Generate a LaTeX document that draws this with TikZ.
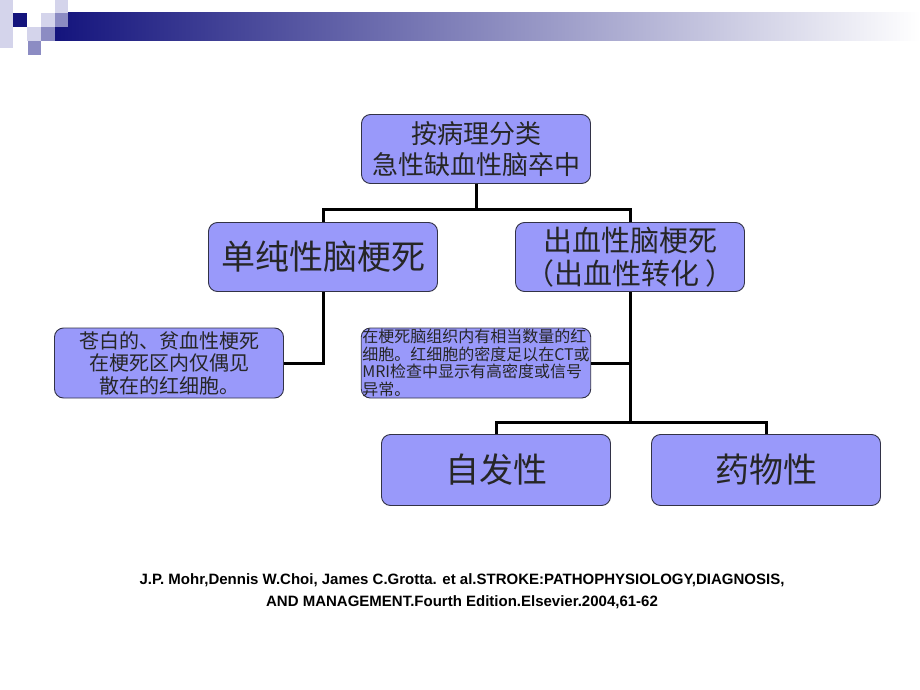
\documentclass[tikz,border=0pt]{standalone}
\usepackage{fontspec}
\setmainfont{Liberation Sans}
\newfontfamily\cjk{Noto Sans CJK SC}
\definecolor{boxfill}{RGB}{153,153,250}
\definecolor{boxline}{RGB}{50,50,70}
\definecolor{navy}{RGB}{20,20,125}
\definecolor{midblue}{RGB}{140,140,195}
\definecolor{paleblue}{RGB}{212,212,235}

\begin{document}
\begin{tikzpicture}[x=1pt,y=-1pt,
  box/.style={draw=boxline,fill=boxfill,rounded corners=9pt,line width=0.9pt,
    text=black!85,align=center,inner sep=2pt},
  wide/.style={box,minimum width=229pt,minimum height=69pt},
  conn/.style={line width=3pt,black}]
  \useasboundingbox (0,0) rectangle (920,690);

  % header bar
  \shade[left color=navy,right color=white] (55,13) rectangle (920,41);
  \fill[paleblue] (0,0) rectangle (13,48);
  \fill[navy] (13,13) rectangle (27,27);
  \fill[paleblue] (55,0) rectangle (68,13);
  \fill[paleblue] (41,13) rectangle (55,27);
  \fill[midblue] (55,13) rectangle (68,27);
  \fill[paleblue] (27,27) rectangle (41,41);
  \fill[midblue] (41,27) rectangle (55,41);
  \fill[midblue] (28,41) rectangle (41,55);

  \node[wide,font=\cjk\fontsize{26}{31}\selectfont] (root) at (476,149)
    {按病理分类\\急性缺血性脑卒中};
  \node[wide,font=\cjk\fontsize{34}{40}\selectfont] (simple) at (323,257)
    {单纯性脑梗死};
  \node[wide,font=\cjk\fontsize{29}{33}\selectfont] (hemo) at (630,257)
    {出血性脑梗死\\（出血性转化 ）};
  \node[wide,minimum height=70pt,font=\cjk\fontsize{20}{22.5}\selectfont] (pale) at (169,363)
    {苍白的、贫血性梗死\\在梗死区内仅偶见\\散在的红细胞。};
  \node[wide,align=left,minimum height=70pt,inner sep=1pt,
    font=\cjk\fontsize{16}{17.5}\selectfont] (dense) at (476,363)
    {在梗死脑组织内有相当数量的红\\细胞。红细胞的密度足以在CT或\\MRI检查中显示有高密度或信号\\异常。};
  \node[wide,minimum height=71pt,font=\cjk\fontsize{34}{40}\selectfont] (spont) at (496,470)
    {自发性};
  \node[wide,minimum height=71pt,font=\cjk\fontsize{34}{40}\selectfont] (drug) at (766,470)
    {药物性};

  \coordinate (split) at (476,209);
  \coordinate (fork) at (630,422);

  \draw[conn] (root.south) -- (split) -| (simple.north);
  \draw[conn] (split) -| (hemo.north);
  \draw[conn] (simple.south) |- (pale.east);
  \draw[conn] (hemo.south) -- (fork);
  \draw[conn] (hemo.south |- dense.east) -- (dense.east);
  \draw[conn] (fork) -| (spont.north);
  \draw[conn] (fork) -| (drug.north);

  \node[font=\bfseries\fontsize{15}{22}\selectfont,align=center] (cite) at (462,591)
    {J.P. Mohr,Dennis W.Choi, James C.Grotta. et al.STROKE:PATHOPHYSIOLOGY,DIAGNOSIS,\\
     AND MANAGEMENT.Fourth Edition.Elsevier.2004,61-62};
\end{tikzpicture}
\end{document}
